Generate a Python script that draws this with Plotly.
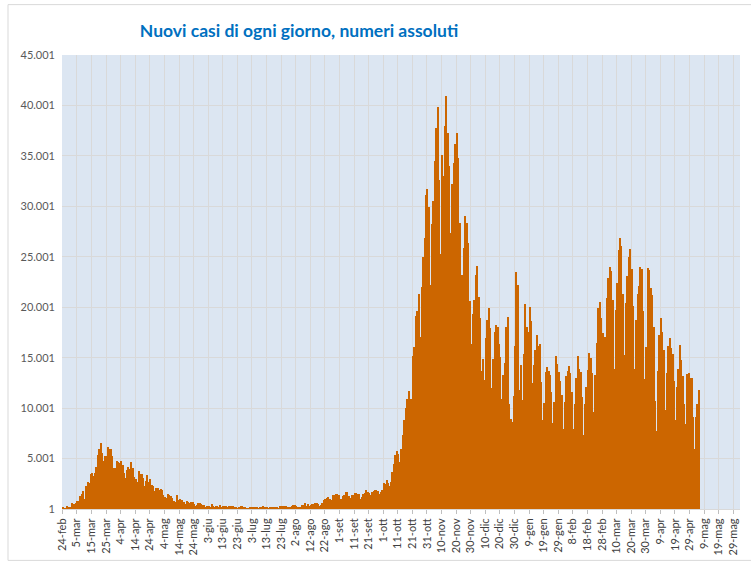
import pandas as pd
import plotly.graph_objects as go

TITLE = "Nuovi casi di ogni giorno, numeri assoluti"
START_DATE = "2020-02-24"

feb_2020 = [221, 93, 78, 250, 238, 240]
mar_2020 = [566, 342, 466, 587, 769, 778, 1247, 1492, 1797, 977, 2313, 2651, 2547, 3497, 3590, 3233,
            3526, 4207, 5322, 5986, 6557, 5560, 4789, 5249, 5210, 6153, 5959, 5974, 5217, 4050, 4053]
apr_2020 = [4782, 4668, 4585, 4805, 4316, 3599, 3039, 3836, 4204, 3951, 4694, 4092, 3153, 2972, 2667,
            3786, 3493, 3491, 3047, 2256, 2729, 3370, 2646, 3021, 2357, 2324, 1739, 2091, 2086, 1872]
may_2020 = [1965, 1900, 1389, 1221, 1075, 1444, 1401, 1327, 1083, 802, 744, 1402, 888, 992, 789, 875,
            675, 451, 813, 665, 642, 652, 669, 531, 300, 397, 584, 593, 516, 416, 355]
jun_2020 = [178, 318, 321, 177, 518, 270, 197, 280, 283, 202, 379, 163, 346, 338, 301, 210, 329, 333,
            251, 262, 224, 218, 122, 190, 296, 259, 175, 174, 126, 142]
jul_2020 = [187, 201, 223, 235, 192, 208, 138, 193, 229, 276, 188, 234, 169, 114, 162, 230, 233, 249,
            219, 190, 129, 282, 306, 252, 275, 255, 170, 181, 212, 289, 386]
aug_2020 = [379, 295, 239, 159, 190, 384, 402, 552, 347, 463, 259, 412, 481, 523, 574, 629, 479, 320,
            403, 642, 845, 947, 1071, 1210, 953, 878, 1366, 1409, 1462, 1444, 1365]
sep_2020 = [996, 975, 1326, 1397, 1733, 1695, 1297, 1108, 1370, 1434, 1597, 1616, 1501, 1458, 1008,
            1229, 1452, 1585, 1907, 1638, 1587, 1392, 1640, 1786, 1912, 1869, 1766, 1494, 1648, 1851]
oct_2020 = [2548, 2499, 2844, 2578, 2257, 2677, 3678, 4458, 5372, 5724, 5456, 4619, 5901, 7332, 8804,
            10010, 10925, 11705, 9338, 10874, 15199, 16079, 19143, 19644, 21273, 17012, 21994, 24991,
            26831, 31084, 31758]
nov_2020 = [29907, 22253, 28244, 30550, 34505, 37809, 39811, 32616, 25271, 35098, 32961, 37978, 40902,
            37255, 33979, 27354, 32191, 34283, 36176, 37242, 34767, 28337, 22930, 23232, 25853, 29003,
            28352, 26323, 20648, 16377]
dec_2020 = [19350, 20709, 23225, 24099, 21052, 18887, 13720, 14842, 12756, 16999, 18727, 19903, 17938,
            12030, 14844, 17572, 18236, 17992, 16308, 15104, 10872, 13318, 14522, 18040, 19037, 10407,
            8913, 8585, 11224, 16202, 23477]
jan_2021 = [22211, 11831, 14245, 10800, 15378, 20331, 18020, 17533, 19978, 18627, 12532, 14242, 15774,
            17246, 16146, 16310, 12545, 8825, 10497, 13571, 14078, 13633, 13331, 11629, 8561, 10593,
            15204, 14372, 13574, 12715, 11252]
feb_2021 = [7925, 10630, 13189, 13659, 14218, 13442, 11641, 7970, 10404, 12956, 15146, 13908, 13532,
            11068, 7351, 10386, 12074, 13762, 15479, 14931, 13452, 9630, 13314, 16424, 19886, 20499,
            18916, 17455]
mar_2021 = [13114, 17083, 20884, 22865, 24036, 23641, 20765, 13902, 19749, 22409, 25673, 26824, 26062,
            21315, 15267, 20396, 23059, 24935, 25735, 23832, 20159, 13846, 18765, 21267, 22057, 23987,
            23839, 19611, 12916, 16017, 23904]
apr_2021 = [23649, 21932, 21261, 18025, 10680, 7767, 13708, 17221, 18938, 17567, 15746, 9789, 13447,
            16168, 16974, 15943, 15370, 12694, 8864, 12074, 13844, 16232, 14761, 13158, 10404, 8444,
            13385, 13446, 12965, 12965]
may_2021 = [9148, 5948, 9116, 10404, 11807]

new_cases = (feb_2020 + mar_2020 + apr_2020 + may_2020 + jun_2020 + jul_2020 + aug_2020 + sep_2020
             + oct_2020 + nov_2020 + dec_2020 + jan_2021 + feb_2021 + mar_2021 + apr_2021 + may_2021)

x_tick_labels = ["24-feb", "5-mar", "15-mar", "25-mar", "4-apr", "14-apr", "24-apr", "4-mag", "14-mag",
                 "24-mag", "3-giu", "13-giu", "23-giu", "3-lug", "13-lug", "23-lug", "2-ago", "12-ago",
                 "22-ago", "1-set", "11-set", "21-set", "1-ott", "11-ott", "21-ott", "31-ott", "10-nov",
                 "20-nov", "30-nov", "10-dic", "20-dic", "30-dic", "9-gen", "19-gen", "29-gen", "8-feb",
                 "18-feb", "28-feb", "10-mar", "20-mar", "30-mar", "9-apr", "19-apr", "29-apr", "9-mag",
                 "19-mag", "29-mag"]
y_tick_values = [1, 5001, 10001, 15001, 20001, 25001, 30001, 35001, 40001, 45001]
y_tick_labels = ["1", "5.001", "10.001", "15.001", "20.001", "25.001", "30.001", "35.001", "40.001", "45.001"]

dates = pd.date_range(START_DATE, periods=len(new_cases), freq="D")
tick_dates = pd.date_range(START_DATE, periods=len(x_tick_labels), freq="10D")
DAY_MS = 86400000

fig = go.Figure()
fig.add_trace(go.Bar(
    x=dates, y=new_cases, width=DAY_MS, offset=0,
    marker=dict(color="#CC6600", line=dict(width=0)),
))

FONT = "Lato, 'Open Sans', sans-serif"
W, H = 751, 562
L, R, T, B = 62, 11, 54.5, 52.5
pw, ph = W - L - R, H - T - B

fig.update_layout(
    width=W, height=H,
    margin=dict(l=L, r=R, t=T, b=B, autoexpand=False),
    paper_bgcolor="white", plot_bgcolor="#DCE6F2",
    bargap=0, showlegend=False,
    font=dict(family=FONT, size=11, color="#595959"),
    title=dict(text="<b>" + TITLE + "</b>", x=299 / W, xanchor="center", xref="container",
               y=1 - 31 / H, yanchor="middle", yref="container",
               font=dict(family=FONT, size=17.5, color="#0070C0")),
    xaxis=dict(
        type="date", automargin=False,
        range=[pd.Timestamp(START_DATE) - pd.Timedelta(hours=5), pd.Timestamp("2021-06-02 14:00")],
        tickmode="array", tickvals=tick_dates, ticktext=x_tick_labels,
        tickangle=-90, tickfont=dict(family=FONT, size=11, color="#404040"),
        ticks="outside", ticklen=4, tickcolor="#BFBFBF",
        showgrid=True, gridcolor="#D9D9D9", gridwidth=1,
        showline=True, linecolor="#D9D9D9", linewidth=1,
        zeroline=False, fixedrange=True,
    ),
    yaxis=dict(
        range=[1, 45001], automargin=False,
        tickmode="array", tickvals=y_tick_values, ticktext=y_tick_labels,
        tickfont=dict(family=FONT, size=11, color="#595959"),
        ticks="", ticklabelstandoff=6,
        showgrid=True, gridcolor="#D9D9D9", gridwidth=1,
        zeroline=False, showline=False, fixedrange=True,
    ),
    shapes=[dict(type="rect", xref="paper", yref="paper",
                 x0=(8 - L) / pw, x1=(760 - L) / pw,
                 y0=(H - B - 561) / ph, y1=(H - B - 4) / ph,
                 line=dict(color="#D9D9D9", width=1), fillcolor="rgba(0,0,0,0)", layer="below")],
)

fig.write_html("out.html", config={"displayModeBar": False},
               post_script="document.body.style.margin='0';document.body.style.overflow='hidden';")
